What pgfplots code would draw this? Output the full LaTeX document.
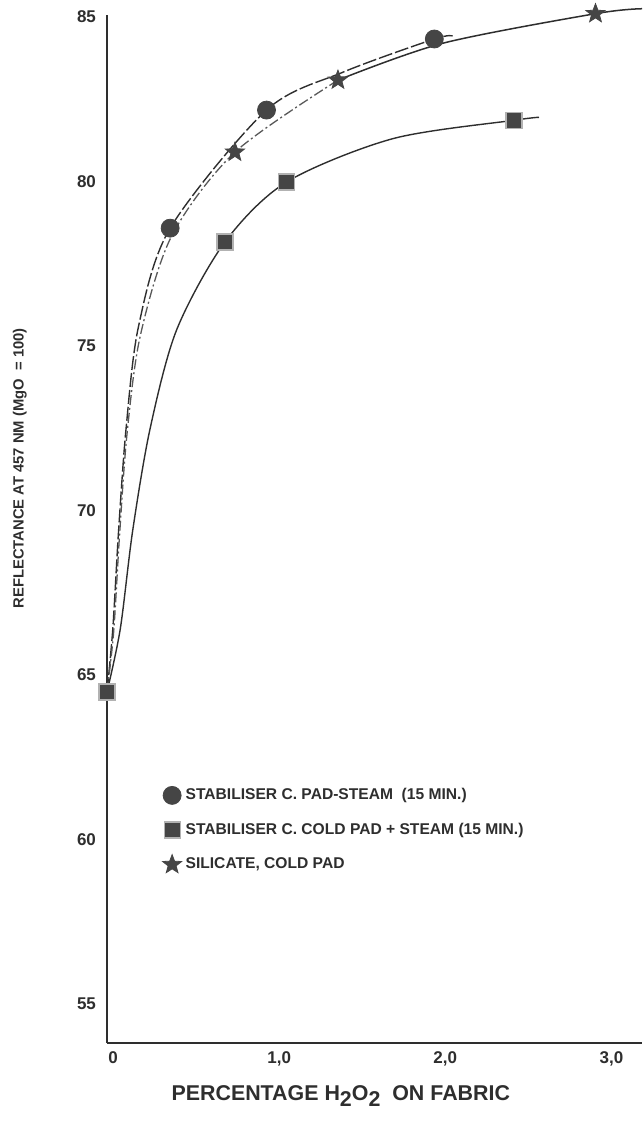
\documentclass[border=0pt]{standalone}
\usepackage{fontspec}
\setmainfont{Liberation Sans}
\usepackage{pgfplots}
\pgfplotsset{compat=1.18}
\usetikzlibrary{plotmarks}
\definecolor{ink}{HTML}{2E2E2E}
\definecolor{mk}{HTML}{454545}
\pgfdeclareplotmark{fstar}{%
  \pgfpathmoveto{\pgfqpointpolar{90}{\pgfplotmarksize}}%
  \pgfpathlineto{\pgfqpointpolar{126}{0.42\pgfplotmarksize}}%
  \pgfpathlineto{\pgfqpointpolar{162}{\pgfplotmarksize}}%
  \pgfpathlineto{\pgfqpointpolar{198}{0.42\pgfplotmarksize}}%
  \pgfpathlineto{\pgfqpointpolar{234}{\pgfplotmarksize}}%
  \pgfpathlineto{\pgfqpointpolar{270}{0.42\pgfplotmarksize}}%
  \pgfpathlineto{\pgfqpointpolar{306}{\pgfplotmarksize}}%
  \pgfpathlineto{\pgfqpointpolar{342}{0.42\pgfplotmarksize}}%
  \pgfpathlineto{\pgfqpointpolar{18}{\pgfplotmarksize}}%
  \pgfpathlineto{\pgfqpointpolar{54}{0.42\pgfplotmarksize}}%
  \pgfpathclose
  \pgfusepathqfillstroke}
\begin{document}
\begin{tikzpicture}
\useasboundingbox (-53.5pt,-39.5pt) rectangle (267.5pt,521.5pt);
\begin{axis}[
  scale only axis, width=267.5pt, height=514pt,
  xmin=0, xmax=3.22, ymin=53.81, ymax=85.06,
  axis x line=bottom, axis y line=left,
  axis line style={-, line width=1.3pt, color=ink},
  xtick={0,1,2,3}, xticklabels={0,{1,0},{2,0},{3,0}},
  ytick={55,60,65,70,75,80,85},
  major tick length=0pt,
  tick label style={font=\fontsize{8.5}{10}\selectfont\bfseries, text=ink},
  yticklabel style={xshift=-2pt},
  xticklabel style={yshift=-1pt, xshift=3pt},
  /pgf/number format/assume math mode=true,
  clip=false,
  xlabel={PERCENTAGE H\raisebox{-0.6ex}{2}O\raisebox{-0.6ex}{2}\ \ ON FABRIC},
  xlabel style={at={(axis description cs:0.437,0)}, anchor=base, yshift=-28.5pt, font=\fontsize{10.7}{12}\selectfont\bfseries, text=ink},
  ylabel={REFLECTANCE AT 457 NM (MgO \ = 100)},
  ylabel style={at={(axis description cs:-0.163,0.559)}, anchor=center, font=\fontsize{7.4}{9}\selectfont\bfseries, text=ink},
  legend style={draw=none, fill=none, at={(axis description cs:0.092,0.256)}, anchor=north west,
    font=\fontsize{7.8}{9}\selectfont\bfseries, text=ink, row sep=6.2pt},
  legend cell align=left,
]
% curves
\addplot[smooth, ink, line width=0.7pt, dash pattern=on 7pt off 1.5pt, forget plot] coordinates {
 (0,64.48) (0.035,66.4) (0.07,69.4) (0.115,72.5) (0.19,75.6) (0.38,78.58) (0.96,82.17) (1.42,83.32) (1.97,84.33) (2.08,84.42)};
\addplot[smooth, ink!80, line width=0.65pt, dash pattern=on 5pt off 1.5pt on 1pt off 1.5pt, forget plot] coordinates {
 (0,64.48) (0.04,66.3) (0.075,69.2) (0.12,72.3) (0.2,75.3) (0.39,78.35) (0.77,80.89) (1.39,83.08)};
\addplot[smooth, ink, line width=0.75pt, forget plot] coordinates {
 (1.39,83.08) (2.02,84.2) (2.94,85.1) (3.22,85.25)};
\addplot[smooth, ink, line width=0.7pt, forget plot] coordinates {
 (0,64.48) (0.08,66.4) (0.155,69.4) (0.26,72.5) (0.42,75.5) (0.71,78.16) (1.08,79.98) (1.72,81.3) (2.45,81.86) (2.6,81.95)};
% markers
\addplot[only marks, mark=*, mark size=4.5pt, mark options={fill=mk, draw=mk}] coordinates {
 (0.38,78.58) (0.96,82.17) (1.97,84.33)};
\addlegendentry{STABILISER C. PAD-STEAM \ (15 MIN.)}
\addplot[only marks, mark=square*, mark size=4pt, mark options={fill=mk, draw=gray!60, line width=0.6pt}] coordinates {
 (0,64.48) (0.71,78.16) (1.08,79.98) (2.45,81.86)};
\addlegendentry{STABILISER C. COLD PAD + STEAM (15 MIN.)}
\addplot[only marks, mark=fstar, mark size=5pt, mark options={draw=mk, fill=mk, line width=0.4pt}] coordinates {
 (0.77,80.89) (1.39,83.08) (2.94,85.1)};
\addlegendentry{SILICATE, COLD PAD}
\end{axis}
\end{tikzpicture}
\end{document}
